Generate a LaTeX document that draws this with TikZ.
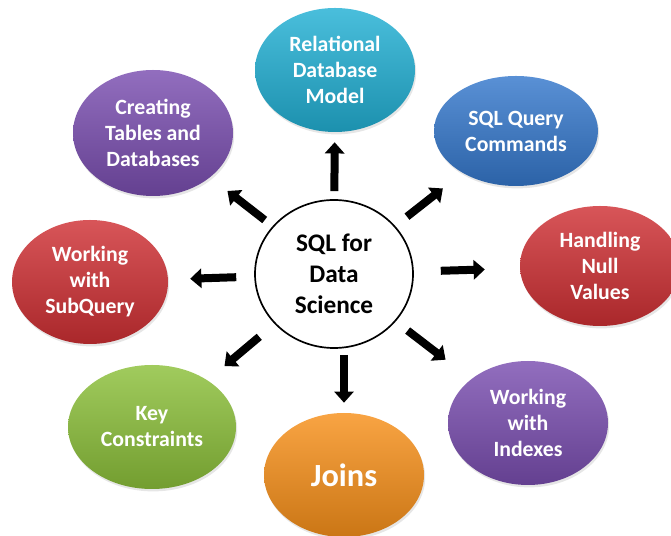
\documentclass[tikz,border=0pt]{standalone}
\usepackage{fontspec}
\setmainfont{Carlito}
\usetikzlibrary{shapes.geometric,arrows.meta,shadows}

\definecolor{cTeal}{HTML}{22B0D4}
\definecolor{cBlue}{HTML}{3578CC}
\definecolor{cRed}{HTML}{CF3034}
\definecolor{cPurple}{HTML}{7A4EB0}
\definecolor{cOrange}{HTML}{F7901A}
\definecolor{cGreen}{HTML}{8CC03A}

\begin{document}
\begin{tikzpicture}[topic/.style={ellipse,inner sep=0pt,minimum width=4cm,minimum height=3.1cm,
                      top color=#1!82!white,bottom color=#1!82!black,
                      drop shadow={opacity=0.2,shadow xshift=0.03cm,shadow yshift=-0.06cm},
                      text=white,align=center,font=\fontsize{15.5}{18.5}\selectfont\bfseries},
                    hub/.style={ellipse,draw,line width=1.2pt,fill=white,minimum width=3.95cm,
                      minimum height=3.7cm,align=center,font=\fontsize{18}{22}\selectfont\bfseries},
                    spoke/.style={line width=0.2cm,-{Triangle[width=0.48cm,length=0.28cm]}}]

\clip (0,0) rectangle (16.775,13.4);

\node[hub] (c) at (8.35,6.55) {SQL for\\Data\\Science};

\node[topic=cTeal] (rdm) at (8.375,11.65) {Relational\\Database\\Model};
\node[topic=cBlue,minimum width=4.1cm,minimum height=2.75cm] (sqc) at (12.9,10.125) {SQL Query\\Commands};
\node[topic=cRed,minimum height=3cm] (hnv) at (15.0,6.75) {Handling\\Null\\Values};
\node[topic=cPurple] (wwi) at (13.2,2.825) {Working\\with\\Indexes};
\node[topic=cOrange,font=\fontsize{23}{27}\selectfont\bfseries] (jn) at (8.6,1.525) {Joins};
\node[topic=cGreen,minimum width=4.2cm] (kc) at (3.8,2.725) {Key\\Constraints};
\node[topic=cRed,minimum width=3.9cm] (wsq) at (2.25,6.35) {Working\\with\\SubQuery};
\node[topic=cPurple,minimum height=3.15cm] (ctd) at (3.825,10.075) {Creating\\Tables and\\Databases};

\draw[spoke,shorten <=0.2cm,shorten >=0.25cm] (c) -- (rdm);
\draw[spoke,shorten <=0.375cm,shorten >=0.625cm] (c) -- (sqc);
\draw[spoke,shorten <=0.675cm,shorten >=0.875cm] (c) -- (hnv);
\draw[spoke,shorten <=0.375cm,shorten >=0.8cm] (c) -- (wwi);
\draw[spoke,shorten <=0.15cm,shorten >=0.25cm] (c.south -| jn) -- (jn);
\draw[spoke,shorten <=0.5cm,shorten >=0.55cm] (c) -- (kc);
\draw[spoke,shorten <=0.45cm,shorten >=0.55cm] (c) -- (wsq);
\draw[spoke,shorten <=0.25cm,shorten >=0.55cm] (c) -- (ctd);
\end{tikzpicture}
\end{document}
